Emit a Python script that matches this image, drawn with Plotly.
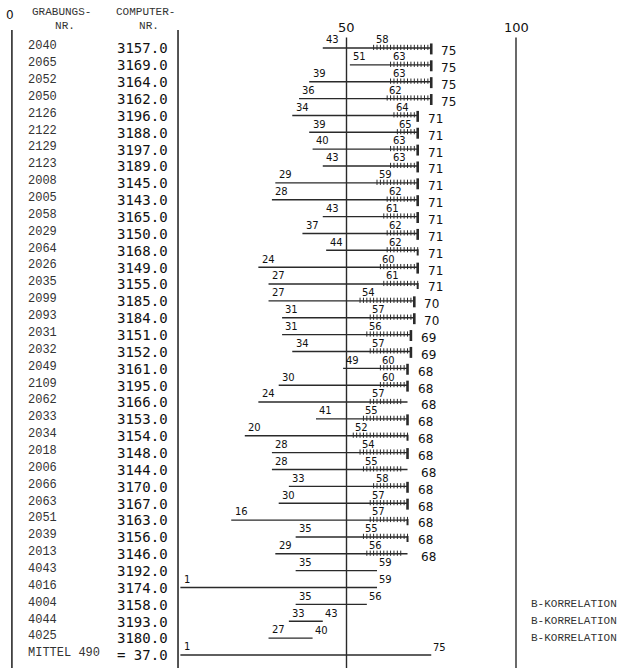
import plotly.graph_objects as go

grabungs_nr = ["2040", "2065", "2052", "2050", "2126", "2122", "2129", "2123", "2008", "2005",
               "2058", "2029", "2064", "2026", "2035", "2099", "2093", "2031", "2032", "2049",
               "2109", "2062", "2033", "2034", "2018", "2006", "2066", "2063", "2051", "2039",
               "2013", "4043", "4016", "4004", "4044", "4025", "MITTEL 490"]
computer_nr = ["3157.0", "3169.0", "3164.0", "3162.0", "3196.0", "3188.0", "3197.0", "3189.0", "3145.0", "3143.0",
               "3165.0", "3150.0", "3168.0", "3149.0", "3155.0", "3185.0", "3184.0", "3151.0", "3152.0", "3161.0",
               "3195.0", "3166.0", "3153.0", "3154.0", "3148.0", "3144.0", "3170.0", "3167.0", "3163.0", "3156.0",
               "3146.0", "3192.0", "3174.0", "3158.0", "3193.0", "3180.0", "= 37.0"]
start_val = [43, 51, 39, 36, 34, 39, 40, 43, 29, 28, 43, 37, 44, 24, 27, 27, 31, 31, 34, 49,
             30, 24, 41, 20, 28, 28, 33, 30, 16, 35, 29, 35, 1, 35, 33, 27, 1]
hatch_val = [58, 63, 63, 62, 64, 65, 63, 63, 59, 62, 61, 62, 62, 60, 61, 54, 57, 56, 57, 60,
             60, 57, 55, 52, 54, 55, 58, 57, 57, 55, 56, None, None, None, None, None, None]
end_val = [75, 75, 75, 75, 71, 71, 71, 71, 71, 71, 71, 71, 71, 71, 71, 70, 70, 69, 69, 68,
           68, 68, 68, 68, 68, 68, 68, 68, 68, 68, 68, 59, 59, 56, 43, 40, 75]
end_style = ["bar", "bar", "bar", "bar", "bar", "bar", "bar", "bar", "bar", "bar",
             "bar", "bar", "hook", "bar", "hook", "bar", "bar", "bar", "bar", "bar",
             "bar", "none", "bar", "hook", "bar", "none", "bar", "bar", "hook", "hook",
             "none", "", "", "", "", "", ""]
remarks = {33: "B-KORRELATION", 34: "B-KORRELATION", 35: "B-KORRELATION"}
axis_ticks = [50, 100]

PX = 3.39          # pixels per unit on the value axis
X0 = -177 / PX
X1 = (619 - 177) / PX
ROW = 16.86        # pixels per row
Y_TOP = -48 / ROW
Y_BOT = (668 - 48) / ROW

LINE_COL = "#2a2a2a"
n = len(grabungs_nr)

fig = go.Figure()

# horizontal lines
hx, hy = [], []
for i in range(n):
    hx += [start_val[i], end_val[i], None]
    hy += [i, i, None]
fig.add_trace(go.Scatter(x=hx, y=hy, mode="lines", line=dict(color=LINE_COL, width=1.4),
                         hoverinfo="skip", showlegend=False))

# hatch ticks
tx, ty = [], []
for i in range(n):
    if hatch_val[i] is None:
        continue
    stop = end_val[i] - (2 if end_style[i] == "none" else 0)
    v = hatch_val[i]
    while v <= stop:
        tx += [v, v, None]
        ty += [i - 0.19, i + 0.12, None]
        v += 1
fig.add_trace(go.Scatter(x=tx, y=ty, mode="lines", line=dict(color=LINE_COL, width=1),
                         hoverinfo="skip", showlegend=False))

# end bars and hooks
bx, by, kx, ky = [], [], [], []
for i in range(n):
    if end_style[i] == "bar":
        bx += [end_val[i], end_val[i], None]
        by += [i - 0.27, i + 0.38, None]
    elif end_style[i] == "hook":
        kx += [end_val[i] - 0.3, end_val[i], end_val[i], None]
        ky += [i, i, i + 0.3, None]
fig.add_trace(go.Scatter(x=bx, y=by, mode="lines", line=dict(color=LINE_COL, width=2.6),
                         hoverinfo="skip", showlegend=False))
fig.add_trace(go.Scatter(x=kx, y=ky, mode="lines", line=dict(color=LINE_COL, width=2),
                         hoverinfo="skip", showlegend=False))

# frame / reference lines
frame = [(-48.7, -1.07), (0.3, -1.07)]
for xv, y0 in frame:
    fig.add_shape(type="line", x0=xv, x1=xv, y0=y0, y1=Y_BOT, xref="x", yref="y",
                  line=dict(color=LINE_COL, width=1.6))
for t in axis_ticks:
    fig.add_shape(type="line", x0=t, x1=t, y0=-0.62, y1=Y_BOT, xref="x", yref="y",
                  line=dict(color=LINE_COL, width=1.4))

ann = []
lab_font = dict(family="DejaVu Sans", size=10, color="#111")
end_font = dict(family="DejaVu Sans", size=12, color="#111")
for i in range(n):
    ann.append(dict(x=-44.5, y=i - 0.1, text=grabungs_nr[i], xanchor="left", yanchor="middle",
                    showarrow=False, font=dict(family="Liberation Mono", size=12, color="#333")))
    ann.append(dict(x=-2.2, y=i + 0.02, text=computer_nr[i], xanchor="right", yanchor="middle",
                    showarrow=False, font=dict(family="DejaVu Sans Mono", size=14, color="#111")))
    ann.append(dict(x=start_val[i] + 0.4, y=i - 0.04, text=str(start_val[i]), xanchor="left",
                    yanchor="bottom", showarrow=False, font=lab_font))
    if hatch_val[i] is not None:
        ann.append(dict(x=hatch_val[i], y=i - 0.04, text=str(hatch_val[i]), xanchor="left",
                        yanchor="bottom", showarrow=False, font=lab_font))
        off = 3.3 if end_style[i] == "none" else 2.4
        ann.append(dict(x=end_val[i] + off, y=i + 0.2, text=str(end_val[i]), xanchor="left",
                        yanchor="middle", showarrow=False, font=end_font))
    else:
        ann.append(dict(x=end_val[i], y=i - 0.02, text=str(end_val[i]), xanchor="left",
                        yanchor="bottom", showarrow=False, font=lab_font))
    if i in remarks:
        ann.append(dict(x=X1, y=i, text=remarks[i], xanchor="right", yanchor="middle",
                        showarrow=False, font=dict(family="Liberation Mono", size=11, color="#333")))

for t in axis_ticks:
    ann.append(dict(x=t, y=-0.65, text=str(t), xanchor="center", yanchor="bottom",
                    showarrow=False, font=dict(family="DejaVu Sans", size=13, color="#111")))
ann.append(dict(x=-49.3, y=-1.95, text="0", xanchor="center", yanchor="middle",
                showarrow=False, font=dict(family="DejaVu Sans", size=12, color="#111")))
ann.append(dict(x=-43.5, y=-1.7, text="GRABUNGS-<br> NR.", xanchor="left", yanchor="middle",
                align="center", showarrow=False,
                font=dict(family="Liberation Mono", size=11, color="#333")))
ann.append(dict(x=-18.6, y=-1.7, text="COMPUTER-<br> NR.", xanchor="left", yanchor="middle",
                align="center", showarrow=False,
                font=dict(family="Liberation Mono", size=11, color="#333")))

fig.update_layout(
    width=619, height=668,
    margin=dict(l=0, r=0, t=0, b=0),
    paper_bgcolor="white", plot_bgcolor="white",
    xaxis=dict(range=[X0, X1], visible=False, fixedrange=True),
    yaxis=dict(range=[Y_BOT, Y_TOP], visible=False, fixedrange=True),
    annotations=ann,
    showlegend=False,
)
fig.write_html("out.html", config={"displayModeBar": False},
               post_script="document.body.style.margin='0';document.body.style.overflow='hidden';")
